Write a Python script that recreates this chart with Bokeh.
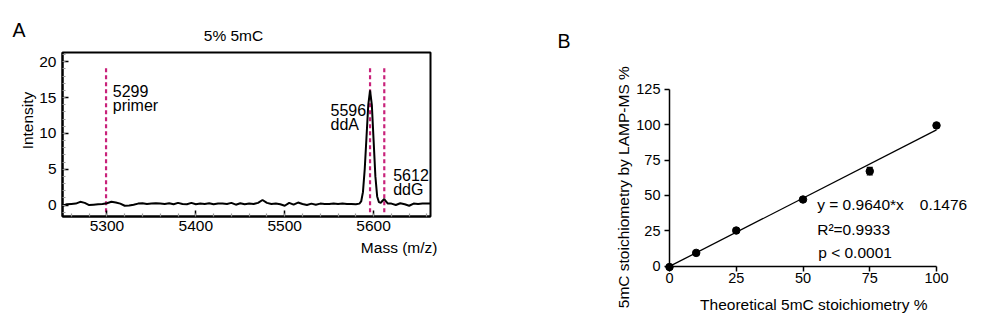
import math
from bokeh.plotting import figure
from bokeh.models import (Range1d, SingleIntervalTicker, FixedTicker, Label, LinearAxis,
                          ColumnDataSource, Whisker, TeeHead)
from bokeh.embed import file_html
from bokeh.resources import INLINE

FONT = "Liberation Sans"
W, H = 994, 324

# ---------------- Panel A data (mass spectrum, 5% 5mC) ----------------
mass = [5250, 5255, 5260, 5265, 5270, 5275, 5280, 5285, 5290, 5295,
        5300, 5305, 5310, 5315, 5320, 5325, 5330, 5335, 5340, 5345,
        5350, 5355, 5360, 5365, 5370, 5375, 5380, 5385, 5390, 5395,
        5400, 5405, 5410, 5415, 5420, 5425, 5430, 5435, 5440, 5445,
        5450, 5455, 5460, 5465, 5470, 5475, 5480, 5485, 5490, 5495,
        5500, 5505, 5510, 5515, 5520, 5525, 5530, 5535, 5540, 5545,
        5550, 5555, 5560, 5565, 5570, 5575, 5580, 5584, 5586, 5588,
        5590, 5592, 5594, 5596, 5598, 5600, 5602, 5604, 5606, 5608,
        5610, 5612, 5614, 5616, 5620, 5625, 5630, 5635, 5640, 5645,
        5650, 5655, 5660, 5664]
intensity = [-0.1, 0.1, 0.15, 0.2, 0.45, 0.3, 0.0, 0.05, 0.1, 0.15,
             0.25, 0.45, 0.35, 0.2, -0.1, -0.05, 0.05, 0.2, 0.25, 0.15,
             0.2, 0.25, 0.2, 0.15, 0.25, 0.1, 0.3, 0.15, 0.1, 0.3,
             0.1, 0.2, 0.15, 0.25, 0.1, 0.2, 0.2, 0.15, 0.3, 0.05,
             0.25, 0.1, 0.2, 0.15, 0.3, 0.7, 0.3, 0.15, 0.2, 0.1,
             -0.1, 0.3, 0.05, 0.35, 0.15, 0.0, 0.2, 0.05, 0.2, 0.15,
             0.15, 0.2, 0.15, 0.2, 0.15, 0.15, 0.1, 0.2, 0.5, 1.8,
             5.0, 9.5, 14.0, 16.0, 14.0, 9.0, 4.0, 1.2, 0.4, 0.3,
             0.6, 0.85, 0.5, 0.2, 0.2, 0.0, 0.25, 0.1, -0.1, 0.2,
             0.15, 0.2, 0.2, 0.2]
marker_mass = [5299, 5596, 5612]
marker_mass_text = ["5299", "5596", "5612"]
marker_names = ["primer", "ddA", "ddG"]
marker_top = 19.5
marker_bottom = -1.0
A_x = (5250, 5664)
A_y = (-1.6, 21.3)

# ---------------- Panel B data (calibration) ----------------
theoretical = [0, 10, 25, 50, 75, 100]
measured = [-0.6, 9.4, 25.2, 47.1, 67.1, 99.4]
measured_err = [0.0, 0.0, 0.0, 0.0, 2.6, 0.0]
fit_x = [0, 100]
fit_y = [-0.15, 96.25]
x_ticks_B = [0, 25, 50, 75, 100]
y_ticks_B = [0, 25, 50, 75, 100, 125]
B_x = (0, 100)
B_y = (0, 125)


# map a data interval onto a pixel interval of the whole canvas
def xspan(d0, d1, p0, p1):
    ppu = (p1 - p0) / (d1 - d0)
    return Range1d(d0 - p0 / ppu, d0 + (W - p0) / ppu)


def yspan(d_bot, d_top, p_bot, p_top):  # p measured from top of canvas
    ppu = (p_bot - p_top) / (d_top - d_bot)
    return Range1d(d_bot - (H - p_bot) / ppu, d_top + p_top / ppu)


p = figure(width=W, height=H, x_range=Range1d(0, W), y_range=Range1d(H, 0),
           output_backend="svg", toolbar_location=None,
           min_border=0, min_border_left=0, min_border_right=0,
           min_border_top=0, min_border_bottom=0,
           x_axis_type=None, y_axis_type=None)
p.outline_line_color = None
p.background_fill_color = "white"
p.border_fill_color = "white"
p.grid.visible = False

p.extra_x_ranges = {"A": xspan(A_x[0], A_x[1], 62, 430), "B": xspan(B_x[0], B_x[1], 669, 936)}
p.extra_y_ranges = {"A": yspan(A_y[0], A_y[1], 216, 52), "B": yspan(B_y[0], B_y[1], 265.7, 88.7)}

# ======================= Panel A =======================
def style_axis_A(ax):
    ax.major_tick_in = 6
    ax.major_tick_out = 0
    ax.minor_tick_in = 3
    ax.minor_tick_out = 0
    ax.major_tick_line_color = "black"
    ax.major_tick_line_width = 1.5
    ax.minor_tick_line_color = "#9a9a9a"
    ax.minor_tick_line_width = 1.2
    ax.axis_line_color = "black"
    ax.axis_line_width = 2
    ax.major_label_text_font = FONT
    ax.major_label_text_font_size = "15.5px"
    ax.major_label_text_color = "black"

xaA = LinearAxis(ticker=SingleIntervalTicker(interval=100, num_minor_ticks=5),
                 x_range_name="A", y_range_name="A", fixed_location=A_y[0], bounds=A_x)
style_axis_A(xaA)
xaA.major_label_standoff = 4
p.add_layout(xaA, "below")
yaA = LinearAxis(ticker=SingleIntervalTicker(interval=5, num_minor_ticks=5),
                 x_range_name="A", y_range_name="A", fixed_location=A_x[0], bounds=A_y)
style_axis_A(yaA)
yaA.major_label_standoff = 6
p.add_layout(yaA, "left")

# box around panel A
p.quad(left=[A_x[0]], right=[A_x[1]], bottom=[A_y[0]], top=[A_y[1]],
       fill_color=None, line_color="black", line_width=2,
       x_range_name="A", y_range_name="A")

p.segment(x0=marker_mass, y0=[marker_bottom] * 3, x1=marker_mass, y1=[marker_top] * 3,
          line_color="#C8217A", line_width=2.2, line_dash="4 3",
          x_range_name="A", y_range_name="A")
p.line(mass, intensity, line_color="black", line_width=2,
       x_range_name="A", y_range_name="A")


def lab(x, y, text, size="15.5px", align="left", baseline="alphabetic", angle=0.0):
    p.add_layout(Label(x=x, y=y, text=text, text_font=FONT, text_font_size=size,
                       text_align=align, text_baseline=baseline, angle=angle,
                       text_color="black"))


lab(12, 18, "A", size="19.5px", baseline="top")
lab(233, 34.5, "5% 5mC", align="center", baseline="middle")
lab(437, 246.5, "Mass (m/z)", align="right")
lab(27, 120, "Intensity", align="center", baseline="middle", angle=math.pi / 2)
# peak annotations
lab(112.3, 90.7, marker_mass_text[0], size="16px")
lab(112.3, 105, marker_names[0], size="16px")
lab(330, 109, marker_mass_text[1], size="16px")
lab(330, 123.5, marker_names[1], size="16px")
lab(392.7, 174, marker_mass_text[2], size="16px")
lab(392.7, 188.5, marker_names[2], size="16px")

# ======================= Panel B =======================
def style_axis_B(ax):
    ax.major_tick_in = 0
    ax.major_tick_out = 5
    ax.minor_tick_line_color = None
    ax.axis_line_color = "black"
    ax.axis_line_width = 1.5
    ax.major_tick_line_width = 1.5
    ax.major_label_text_font = FONT
    ax.major_label_text_font_size = "14.5px"
    ax.major_label_text_color = "black"

xaB = LinearAxis(fixed_location=0, ticker=FixedTicker(ticks=x_ticks_B), bounds=B_x,
                 x_range_name="B", y_range_name="B")
style_axis_B(xaB)
xaB.major_label_standoff = 2
p.add_layout(xaB, "below")
yaB = LinearAxis(fixed_location=0, ticker=FixedTicker(ticks=y_ticks_B), bounds=B_y,
                 x_range_name="B", y_range_name="B")
style_axis_B(yaB)
yaB.major_label_standoff = 4
p.add_layout(yaB, "left")

p.line(fit_x, fit_y, line_color="black", line_width=1.3, x_range_name="B", y_range_name="B")
src = ColumnDataSource(dict(x=theoretical, y=measured,
                            lo=[m - e for m, e in zip(measured, measured_err)],
                            hi=[m + e for m, e in zip(measured, measured_err)]))
p.add_layout(Whisker(source=src, base="x", lower="lo", upper="hi",
                     line_color="black", line_width=1.3,
                     x_range_name="B", y_range_name="B",
                     upper_head=TeeHead(size=6, line_color="black", line_width=1.3),
                     lower_head=TeeHead(size=6, line_color="black", line_width=1.3)))
p.scatter("x", "y", source=src, size=7.5, marker="circle", fill_color="black",
          line_color="black", x_range_name="B", y_range_name="B")

lab(557, 29, "B", size="19.5px", baseline="top")
lab(813.3, 303.5, "Theoretical 5mC stoichiometry %", align="center")
lab(622.5, 186.7, "5mC stoichiometry by LAMP-MS %", align="center", baseline="middle",
    angle=math.pi / 2)
lab(816.7, 204, "y = 0.9640*x")
lab(919.3, 204, "0.1476")
lab(816.7, 229, "R\u00b2=0.9933")
lab(817.7, 252.3, "p < 0.0001")

open("out.html", "w").write(file_html(p, INLINE))
